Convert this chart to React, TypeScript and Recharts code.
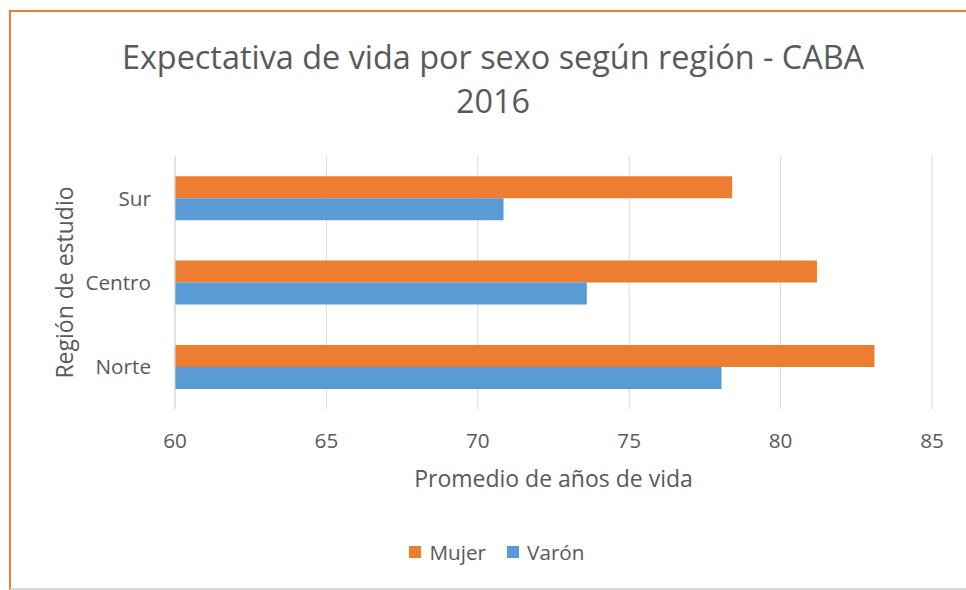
import React from 'react'
import { BarChart, Bar, XAxis, YAxis, CartesianGrid, Legend, Label } from 'recharts'

// Regions, top to bottom as drawn
const REGIONES = ['Sur', 'Centro', 'Norte']
// Promedio de años de vida
const MUJER = [78.4, 81.2, 83.1]
const VARON = [70.85, 73.6, 78.05]
const X_TICKS = [60, 65, 70, 75, 80, 85]

const SERIES = [
  { key: 'mujer', name: 'Mujer', color: '#ED7D31' },
  { key: 'varon', name: 'Varón', color: '#5B9BD5' },
]

const data = REGIONES.map((name, i) => ({ name, mujer: MUJER[i], varon: VARON[i] }))

const FONT = '"Open Sans", "Noto Sans", sans-serif'
const TEXT = '#595959'

const renderLegend = () => (
  <div
    style={{
      display: 'flex',
      justifyContent: 'center',
      alignItems: 'center',
      gap: 21,
      fontFamily: FONT,
      fontSize: 20.7,
      color: TEXT,
    }}
  >
    {SERIES.map((s) => (
      <div key={s.key} style={{ display: 'flex', alignItems: 'center', gap: 8 }}>
        <span style={{ width: 12, height: 12, background: s.color, display: 'inline-block' }} />
        <span>{s.name}</span>
      </div>
    ))}
  </div>
)

export default function App() {
  return (
    <div
      style={{
        position: 'absolute',
        left: 0,
        top: 0,
        width: 966,
        height: 590,
        overflow: 'hidden',
        background: '#fff',
      }}
    >
      {/* chart frame */}
      <div
        style={{
          position: 'absolute',
          left: 9,
          top: 10,
          width: 957,
          height: 580,
          boxSizing: 'border-box',
          borderTop: '2px solid #ED7D31',
          borderLeft: '2px solid #ED7D31',
          borderBottom: '2px solid #D9D9D9',
        }}
      />

      {/* title */}
      <div
        style={{
          position: 'absolute',
          left: 0,
          top: 34,
          width: 986,
          textAlign: 'center',
          fontFamily: FONT,
          fontSize: 32.4,
          lineHeight: '44px',
          color: TEXT,
        }}
      >
        Expectativa de vida por sexo según región - CABA
        <br />
        2016
      </div>

      <div style={{ position: 'absolute', left: 0, top: 0 }}>
        <BarChart
          width={966}
          height={590}
          data={data}
          layout="vertical"
          margin={{ top: 156, right: 34, bottom: 91, left: 10 }}
          barCategoryGap="24%"
          barGap={0}
        >
          <CartesianGrid horizontal={false} stroke="#D9D9D9" />
          <XAxis
            type="number"
            domain={[60, 85]}
            ticks={X_TICKS}
            allowDataOverflow
            height={90}
            axisLine={false}
            tickLine={false}
            tickMargin={18}
            tick={{ fill: TEXT, fontSize: 20.7, fontFamily: FONT }}
          >
            <Label
              content={({ viewBox }: any) => (
                <text
                  x={viewBox.x + viewBox.width / 2}
                  y={487}
                  textAnchor="middle"
                  fill={TEXT}
                  fontSize={23}
                  fontFamily={FONT}
                >
                  Promedio de años de vida
                </text>
              )}
            />
          </XAxis>
          <YAxis
            type="category"
            dataKey="name"
            width={165}
            axisLine={{ stroke: '#D9D9D9' }}
            tickLine={false}
            tickMargin={18}
            tick={{ fill: TEXT, fontSize: 20.7, fontFamily: FONT }}
          >
            <Label
              content={({ viewBox }: any) => {
                const cx = 64
                const cy = viewBox.y + viewBox.height / 2
                return (
                  <text
                    x={cx}
                    y={cy}
                    transform={`rotate(-90 ${cx} ${cy})`}
                    textAnchor="middle"
                    dominantBaseline="central"
                    fill={TEXT}
                    fontSize={23}
                    fontFamily={FONT}
                  >
                    Región de estudio
                  </text>
                )
              }}
            />
          </YAxis>
          <Legend
            verticalAlign="middle"
            align="center"
            content={renderLegend}
            wrapperStyle={{ top: 538, left: 4, width: 986 }}
          />
          {SERIES.map((s) => (
            <Bar key={s.key} dataKey={s.key} name={s.name} fill={s.color} isAnimationActive={false} />
          ))}
        </BarChart>
      </div>
    </div>
  )
}
